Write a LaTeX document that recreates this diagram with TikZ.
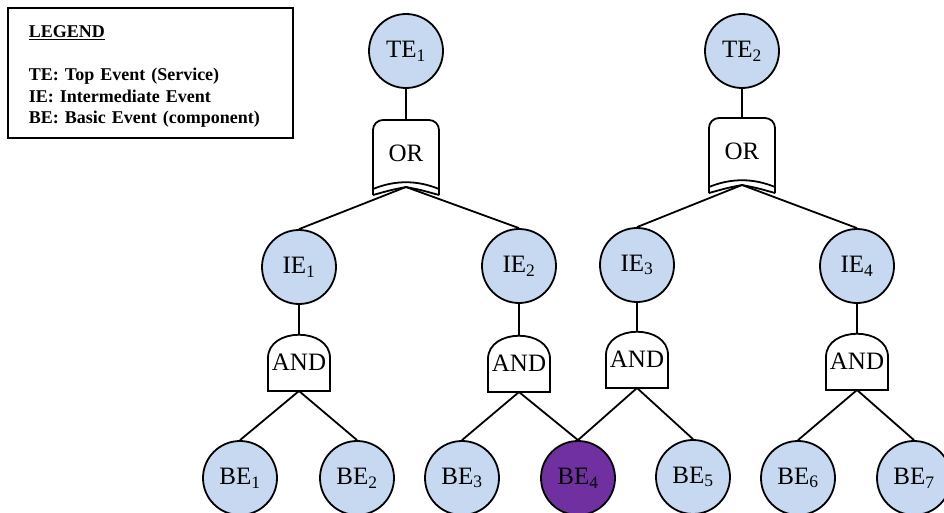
\documentclass[tikz,border=0pt]{standalone}
\usepackage{fontspec}
\setmainfont{Liberation Serif}
\definecolor{evblue}{HTML}{C6D9F1}
\definecolor{evpurple}{HTML}{7030A0}

\begin{document}
\begin{tikzpicture}[x=1pt, y=-1pt, line width=1.8pt,
    event/.style={draw, circle, fill=evblue, minimum size=74pt, inner sep=0pt, font=\fontsize{25}{25}\selectfont},
    gatelabel/.style={inner sep=0pt, font=\fontsize{25}{25}\selectfont},
    orgate/.pic={
        \draw[rounded corners=10pt] (-33,75) -- (-33,0) -- (33,0) -- (33,75);
        \draw (-33,69) .. controls (-11,60) and (11,60) .. (33,69);
        \draw (-33,75) .. controls (-15,70) .. (0,67) .. controls (15,70) .. (33,75);
        \coordinate (-in) at (0,0);
        \coordinate (-out) at (0,67);
        \node[gatelabel] at (0,33) {OR};
    },
    andgate/.pic={
        \draw (-31,57) -- (-31,24) .. controls (-31,-7) and (31,-7) .. (31,24) -- (31,57) -- cycle;
        \coordinate (-in) at (0,0);
        \coordinate (-out) at (0,57);
        \node[gatelabel] at (0,28) {AND};
    }]
    \useasboundingbox (0,0) rectangle (944,513);

    \node[draw, rectangle, anchor=north west, minimum height=130pt, text width=243pt, inner xsep=21pt,
          align=left, font=\bfseries\fontsize{18}{21.5}\selectfont] (legend) at (7,7) {
        \rule{0pt}{19pt}\underline{LEGEND}\\[22pt]
        TE: Top Event (Service)\\
        IE: Intermediate Event\\
        BE: Basic Event (component)
    };

    % events
    \node[event] (te1) at (406,51) {TE\textsubscript{1}};
    \node[event] (te2) at (742,51) {TE\textsubscript{2}};
    \node[event] (ie1) at (299,267) {IE\textsubscript{1}};
    \node[event] (ie2) at (519,266) {IE\textsubscript{2}};
    \node[event] (ie3) at (637,265) {IE\textsubscript{3}};
    \node[event] (ie4) at (857,266) {IE\textsubscript{4}};
    \node[event] (be1) at (240,478) {BE\textsubscript{1}};
    \node[event] (be2) at (357,478) {BE\textsubscript{2}};
    \node[event] (be3) at (462,478) {BE\textsubscript{3}};
    \node[event, fill=evpurple] (be4) at (578,478) {BE\textsubscript{4}};
    \node[event] (be5) at (693,477) {BE\textsubscript{5}};
    \node[event] (be6) at (798,478) {BE\textsubscript{6}};
    \node[event] (be7) at (914,478) {BE\textsubscript{7}};

    % gates
    \pic (or1) at (406,120) {orgate};
    \pic (or2) at (742,118) {orgate};
    \pic (and1) at (299,334) {andgate};
    \pic (and2) at (519,335) {andgate};
    \pic (and3) at (637,331) {andgate};
    \pic (and4) at (857,333) {andgate};

    % connectors
    \draw (te1) -- (or1-in);
    \draw (te2) -- (or2-in);
    \draw (or1-out) -- (ie1.north);
    \draw (or1-out) -- (ie2.north);
    \draw (or2-out) -- (ie3.north);
    \draw (or2-out) -- (ie4.north);
    \draw (ie1) -- (and1-in);
    \draw (ie2) -- (and2-in);
    \draw (ie3) -- (and3-in);
    \draw (ie4) -- (and4-in);
    \draw (and1-out) -- (be1.north);
    \draw (and1-out) -- (be2.north);
    \draw (and2-out) -- (be3.north);
    \draw (and2-out) -- (be4.north);
    \draw (and3-out) -- (be4.north);
    \draw (and3-out) -- (be5.north);
    \draw (and4-out) -- (be6.north);
    \draw (and4-out) -- (be7.north);
\end{tikzpicture}
\end{document}
